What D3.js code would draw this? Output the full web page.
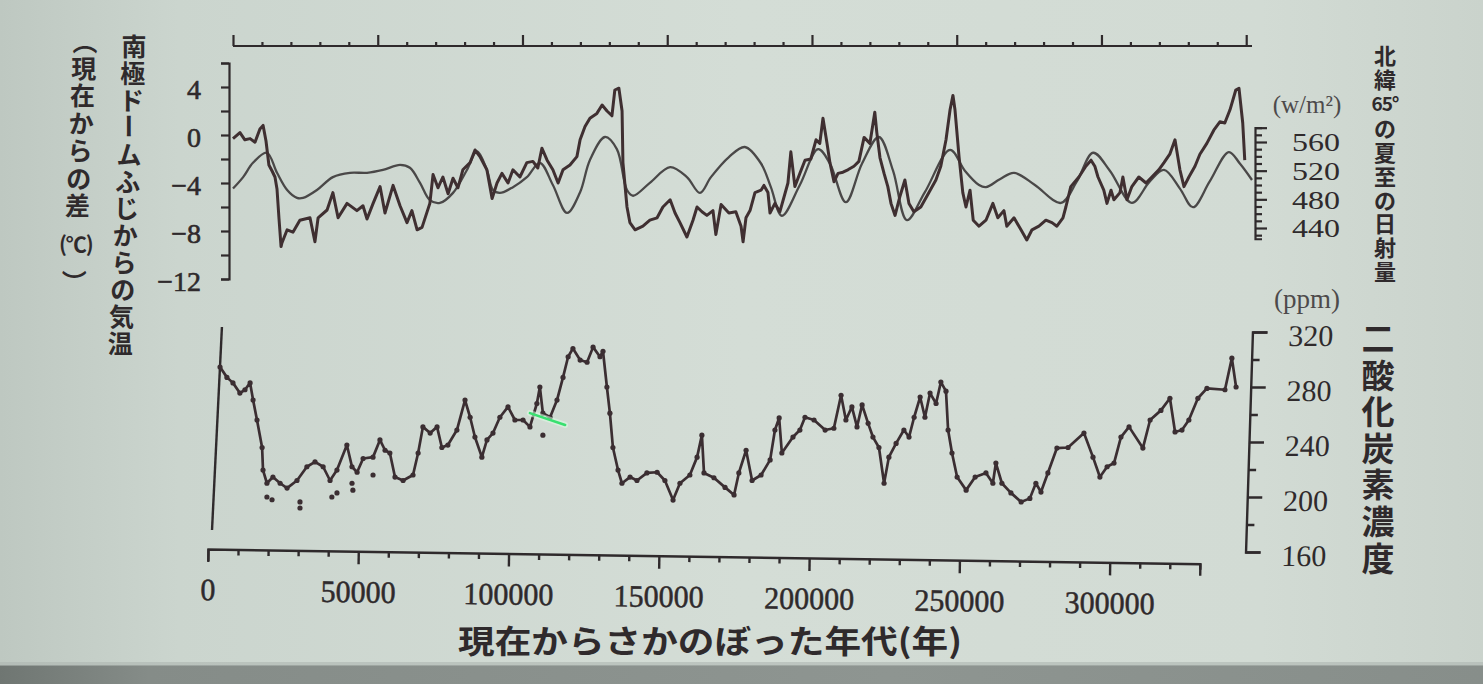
<!DOCTYPE html>
<html>
<head>
<meta charset="utf-8">
<script src="https://cdn.jsdelivr.net/npm/d3@7"></script>
<style>
  html, body { margin: 0; padding: 0; background: #d0d9d2; overflow: hidden; }
  svg { display: block; }
</style>
</head>
<body>
<svg id="chart" width="1483" height="684"></svg>
<script>
// ---- Dome Fuji temperature anomaly (age in ka, °C relative to present)
const tempSeries = [
  [0,-0.3],[2.4,0.2],[4.1,-0.4],[5.9,-0.3],[7.6,-0.6],[9.3,0.5],[10.4,0.8],[11.4,-0.5],[12.4,-2.5],[13.5,-3.0],
  [14.5,-3.5],[15.2,-4.5],[15.9,-7.0],[16.6,-9.3],[16.9,-9.0],[18.7,-7.9],[20.7,-8.1],[23.1,-7.1],[26.6,-6.9],[28.3,-8.9],
  [29.4,-6.9],[32.5,-6.25],[34.5,-4.8],[36.3,-6.9],[39.4,-5.7],[42.8,-6.3],[44.9,-5.9],[46.3,-7.0],[48.4,-5.7],[50.8,-4.3],
  [52.5,-6.5],[55.3,-4.2],[57.7,-5.9],[60.1,-7.3],[61.8,-6.3],[63.6,-7.9],[65.3,-7.7],[68.0,-5.7],[69.1,-3.3],[70.8,-4.4],
  [72.5,-3.5],[74.3,-4.9],[76.0,-3.6],[77.7,-4.4],[79.4,-2.9],[81.9,-2.3],[83.6,-1.25],[85.3,-1.8],[87.7,-2.9],[89.5,-5.3],
  [91.2,-4.0],[92.9,-3.2],[95.0,-4.0],[96.7,-2.9],[99.1,-3.5],[101.5,-2.3],[103.6,-2.2],[105.3,-2.75],[106.7,-1.1],[108.5,-2.1],
  [110.5,-2.9],[112.3,-4.0],[114.0,-2.9],[116.4,-2.5],[118.8,-1.8],[119.9,-0.4],[121.6,0.7],[123.3,1.4],[125.7,1.8],[127.5,2.5],
  [129.2,2.0],[130.9,1.6],[131.9,3.75],[133.3,3.9],[134.4,2.0],[134.7,-2.3],[136.1,-6.0],[137.1,-7.3],[138.9,-7.9],[141.6,-7.6],
  [144.0,-7.1],[146.5,-6.9],[148.5,-6.0],[151.0,-5.4],[152.7,-6.5],[154.4,-7.3],[156.8,-8.5],[158.9,-7.1],[160.3,-6.0],[162.0,-6.4],
  [163.7,-6.7],[165.8,-6.3],[166.8,-8.3],[168.6,-5.8],[171.3,-6.5],[173.7,-6.4],[175.5,-7.6],[176.2,-8.9],[177.2,-6.9],[178.6,-6.3],
  [180.3,-4.8],[182.4,-4.6],[183.4,-4.2],[184.8,-4.8],[185.5,-6.5],[187.2,-5.7],[188.9,-6.4],[191.7,-4.0],[192.7,-1.4],[194.1,-4.3],
  [195.8,-3.2],[197.6,-2.1],[199.6,-2.0],[201.4,-0.4],[202.7,-0.7],[203.8,1.4],[205.2,-0.7],[206.2,-2.3],[207.6,-3.9],[209.0,-3.2],
  [210.7,-3.1],[212.4,-2.9],[214.5,-2.6],[216.2,-2.2],[218.0,-0.2],[220.0,-0.7],[221.7,1.9],[222.4,0.2],[223.5,-1.9],[224.9,-3.2],
  [226.2,-4.3],[227.3,-5.7],[228.7,-6.7],[230.4,-5.1],[232.1,-3.75],[233.5,-5.7],[235.2,-6.4],[237.6,-6.0],[240.4,-4.8],[242.8,-3.75],
  [244.5,-2.6],[246.3,-0.4],[247.7,2.1],[248.7,3.3],[249.4,2.1],[250.8,-1.8],[252.1,-4.8],[253.2,-6.0],[254.6,-4.6],[255.7,-7.1],
  [257.7,-7.6],[260.1,-7.1],[262.5,-5.7],[264.2,-6.9],[266.3,-6.3],[267.3,-7.6],[269.8,-6.9],[272.2,-7.9],[274.2,-8.75],[276.0,-7.9],
  [278.4,-7.6],[280.8,-7.1],[282.9,-7.3],[284.6,-7.6],[286.7,-6.9],[287.7,-6.0],[289.4,-4.3],[292.2,-3.5],[294.6,-2.6],[296.4,-2.1],
  [297.7,-2.6],[298.8,-3.5],[300.8,-4.6],[301.9,-5.7],[303.3,-4.6],[304.3,-5.4],[306.4,-4.8],[307.4,-3.5],[308.8,-5.4],[310.5,-4.3],
  [312.9,-3.5],[315.4,-4.0],[317.4,-3.5],[319.8,-2.9],[321.6,-2.3],[323.6,-1.6],[325.4,-0.4],[327.1,-2.9],[328.5,-4.3],[330.2,-3.5],
  [332.3,-2.6],[334.0,-1.6],[336.4,-0.7],[338.8,0.4],[340.9,1.1],[342.6,1.0],[344.4,2.1],[346.4,3.75],[347.5,3.9],[348.8,1.0],
  [349.5,-2.1]
];

// ---- 65°N summer-solstice insolation (age in ka, W/m²)
const insolSeries = [
  [0,495],[3.5,511],[6.9,531],[11.7,545],[15.2,517],[18.7,493],[22.1,482],[24.2,482],[29.0,493],[34.5,511],
  [40.4,517],[46.3,517],[51.8,521],[57.7,528],[61.1,524],[64.6,503],[68.0,479],[71.5,475],[76.0,489],[80.8,521],
  [84.3,547],[87.7,521],[89.8,493],[92.2,489],[96.7,497],[101.5,511],[106.0,531],[110.5,500],[115.4,461],[119.9,490],
  [123.3,535],[128.5,567],[132.6,550],[136.1,493],[138.2,485],[144.0,503],[151.0,525],[156.8,511],[161.3,489],[165.1,511],
  [171.3,539],[176.8,553],[182.4,530],[185.8,497],[189.6,457],[195.8,500],[202.1,550],[206.2,530],[211.7,476],[217.3,530],
  [223.1,567],[228.0,520],[232.8,451],[239.0,490],[247.7,549],[252.8,520],[257.7,500],[260.1,497],[264.9,508],[269.8,517],
  [277.0,500],[286.0,475],[291.5,505],[297.1,545],[302.9,520],[310.5,475],[316.7,505],[321.6,521],[327.1,495],[331.6,469],
  [337.4,505],[344.0,546],[347.8,530],[352.0,507]
];

// ---- CO2 concentration (age in ka, ppm)
const co2Series = [
  [4.0,294.5],[6.3,287],[8.3,283],[10.6,275.6],[12.3,278],[14.0,283],[15.0,270.5],[16.3,256],[18.0,236],[18.3,219.6],
  [19.6,210],[21.6,214.5],[24.0,210],[26.3,206.5],[29.6,212],[32.9,222],[35.6,225.5],[38.3,222],[40.6,212],[42.9,219.6],
  [46.2,237.8],[47.9,222],[49.6,218],[51.6,228],[54.9,229],[57.2,241.5],[58.9,234],[60.5,232],[62.2,214.5],[64.9,212],
  [68.2,216],[69.9,232],[71.5,251],[73.9,246.5],[76.2,251],[77.8,236],[79.8,237.8],[82.8,248.7],[85.5,270.5],[87.2,258],
  [88.8,243.6],[91.1,229],[92.8,241.5],[94.8,246.5],[97.1,258],[99.8,265.5],[102.1,256],[104.8,256],[107.1,251],[109.4,268],
  [110.4,280],[111.4,261],[113.8,258],[116.1,270.5],[118.1,287],[119.8,302],[121.4,308],[123.8,299.6],[126.1,298],[128.1,309],
  [130.4,302],[131.4,306],[132.7,280],[133.7,261],[134.7,236],[136.4,219.6],[137.7,210],[140.4,214.5],[142.7,212],[146.0,217.5],
  [149.4,218],[152.0,212],[154.7,197.8],[157.0,210],[160.3,216],[162.7,229],[164.3,245],[165.0,217.5],[168.3,214],[172.0,207],
  [175.0,201.5],[176.6,217.5],[179.0,234],[181.0,212],[184.0,216],[187.0,227],[188.6,248.7],[190.0,257.5],[190.9,232],[194.6,243.6],
  [196.9,248.7],[198.6,258],[201.6,256],[205.3,248.7],[208.2,250],[210.6,274],[212.2,256],[214.2,265.5],[215.9,251],[217.6,267],
  [219.6,253.6],[221.2,243.6],[223.2,236],[224.9,210],[226.5,229],[228.9,239],[231.5,248.7],[233.2,243.6],[234.9,258],[236.9,272.7],
  [238.5,258],[240.2,275.6],[242.2,268],[243.8,283.6],[245.5,277],[246.2,248.7],[247.5,232],[249.2,214.5],[252.2,205],[255.2,214.5],
  [258.8,217.5],[261.1,210],[262.1,224.7],[264.1,210],[267.1,203],[270.5,196.4],[273.4,199],[275.4,210],[277.1,203.6],[279.4,217.5],
  [282.4,235.6],[286.1,236],[291.4,246.5],[294.4,229],[296.7,214.5],[299.1,222],[301.4,224.7],[303.7,243.6],[306.4,251],[311.0,235.6],
  [313.4,256],[317.0,263],[320.0,271.8],[321.7,247.3],[324.0,248.7],[326.3,256],[329.3,271.8],[332.3,279],[338.3,278],[340.6,301],
  [342.0,280]
];

// isolated CO2 measurements lying off the main trace (ka, ppm)
const co2Stray = [
  [19.6,200],[21.3,198],[30.6,196.4],[30.6,192],[41.2,200],[42.9,203],[47.9,210],[48.2,205],[54.9,216],[111.4,245]
];

// short green pointer stroke across the CO2 trace (ka, ppm)
const pointerMark = [[107.1,261],[118.8,252.4]];

// ---- tick values and labels
const tempTicks = d3.range(-12, 7, 2);
const tempLabels = [-12, -8, -4, 0, 4];
const insolTicks = d3.range(430, 581, 10);
const insolLabels = [440, 480, 520, 560];
const co2Ticks = d3.range(160, 321, 20);
const co2Labels = [160, 200, 240, 280, 320];
const ageTicks = d3.range(0, 330001, 10000);
const ageLabels = d3.range(0, 300001, 50000);
const topTicks = d3.range(0, 350001, 10000);

// ---- titles, one entry per vertical cell
const tempTitleOuter = ["︵","現","在","か","ら","の","差","(℃)","︶"];
const tempTitleInner = ["南","極","ド","ー","ム","ふ","じ","か","ら","の","気","温"];
const insolTitle = ["北","緯","65°","の","夏","至","の","日","射","量"];
const co2Title = ["二","酸","化","炭","素","濃","度"];
const ageTitle = "現在からさかのぼった年代(年)";
const insolUnit = "(w/m²)";
const co2Unit = "(ppm)";

// ================= drawing =================
const W = 1483, H = 684;
const fontCJK = "'Noto Sans CJK JP','Noto Sans CJK SC',sans-serif";
const fontNum = "'Liberation Serif','DejaVu Serif',serif";
const ink = "#2f2a2c";

const svg = d3.select("#chart");
const defs = svg.append("defs");

// screen background with a soft horizontal falloff
const bg = defs.append("linearGradient").attr("id", "bg").attr("x1", 0).attr("x2", 1).attr("y1", 0).attr("y2", 0);
bg.selectAll("stop")
  .data([[0, "#bec8c1"], [0.12, "#cbd5ce"], [0.5, "#d4ddd6"], [0.85, "#d2dbd4"], [1, "#cad3cc"]])
  .join("stop").attr("offset", d => d[0]).attr("stop-color", d => d[1]);
svg.append("rect").attr("width", W).attr("height", H).attr("fill", "url(#bg)");

// darker strip below the projected slide
const band = defs.append("linearGradient").attr("id", "band").attr("x1", 0).attr("x2", 1).attr("y1", 0).attr("y2", 0);
band.selectAll("stop")
  .data([[0, "#6f7672"], [0.1, "#858c88"], [0.6, "#8e9591"], [1, "#878e8a"]])
  .join("stop").attr("offset", d => d[0]).attr("stop-color", d => d[1]);
svg.append("rect").attr("x", 0).attr("y", 665).attr("width", W).attr("height", H - 665).attr("fill", "url(#band)");
svg.append("rect").attr("x", 0).attr("y", 662).attr("width", W).attr("height", 4).attr("fill", "#aeb5b0").attr("opacity", 0.6);

// ---- scales
const xTop = d3.scaleLinear().domain([0, 352000]).range([233, 1252]);
const xBot = d3.scaleLinear().domain([0, 330000]).range([208, 1200]);
const yTemp = d3.scaleLinear().domain([-12, 6]).range([279, 63]);
const yInsol = d3.scaleLinear().domain([440, 560]).range([228, 142]);
const yCO2 = d3.scaleLinear().domain([160, 320]).range([552, 332]);

const chart = svg.append("g");

function styleAxis(g, width) {
  g.selectAll("path.domain").attr("stroke", ink).attr("stroke-width", width);
  g.selectAll(".tick line").attr("stroke", ink).attr("stroke-width", width);
}

// ---- top time strip (unlabelled)
const gTop = chart.append("g").attr("transform", "translate(0,46)")
  .call(d3.axisTop(xTop).tickValues(topTicks).tickSizeOuter(0).tickFormat(""));
gTop.select("path.domain").attr("d", `M${xTop(0)},0H${xTop(352000)}`);
gTop.selectAll(".tick line").attr("y2", d => d % 50000 === 0 ? -11 : -4);
styleAxis(gTop, 2.2);

// ---- temperature axis (left, top panel)
const gTemp = chart.append("g").attr("transform", "translate(229,0)")
  .call(d3.axisLeft(yTemp).tickValues(tempTicks).tickSize(8).tickSizeOuter(8)
    .tickFormat(d => tempLabels.includes(d) ? d3.format("d")(d) : ""));
styleAxis(gTemp, 2.2);
gTemp.selectAll(".tick text")
  .attr("x", -28).attr("dy", "0.42em")
  .attr("font-family", fontNum).attr("font-size", 28).attr("fill", ink)
  .attr("stroke", ink).attr("stroke-width", 0.6);

// ---- insolation axis (right, top panel)
const yInsolAxis = yInsol.copy().domain([425, 580]).range([yInsol(425), yInsol(580)]);
const gInsol = chart.append("g").attr("transform", "translate(1255,0)")
  .call(d3.axisRight(yInsolAxis).tickValues(insolTicks).tickSizeOuter(7)
    .tickFormat(d => insolLabels.includes(d) ? d : ""));
gInsol.selectAll(".tick line").attr("x2", d => d % 40 === 0 || d === 580 ? 12 : 7);
styleAxis(gInsol, 2.2);
gInsol.selectAll(".tick text")
  .attr("x", 37).attr("dy", "0.34em")
  .attr("font-family", fontNum).attr("font-size", 26).attr("fill", ink)
  .each(function(d) {
    if (insolLabels.includes(d)) d3.select(this).attr("textLength", 48).attr("lengthAdjust", "spacingAndGlyphs");
  });

// ---- CO2 axis (right, bottom panel), leaning slightly like the rest of the lower frame
const tCO2 = Math.tan(1.8 * Math.PI / 180);
const gCO2 = chart.append("g")
  .attr("transform", `translate(${1249 + tCO2 * 442},0) skewX(-1.8)`)
  .call(d3.axisRight(yCO2).tickValues(co2Ticks).tickSizeOuter(15)
    .tickFormat(d => co2Labels.includes(d) ? d : ""));
gCO2.selectAll(".tick line").attr("x2", d => d % 40 === 0 ? 15 : 8);
styleAxis(gCO2, 2.4);
gCO2.selectAll(".tick text")
  .attr("x", 36).attr("dy", "0.45em")
  .attr("font-family", fontNum).attr("font-size", 30).attr("fill", ink);

// ---- left frame line of the CO2 panel
const tLeft = Math.tan(2.8 * Math.PI / 180);
chart.append("g")
  .attr("transform", `translate(${217 + tLeft * 428},0) skewX(-2.8)`)
  .append("path")
  .attr("d", `M0,${yCO2(323.6)}V${yCO2(176)}`)
  .attr("stroke", ink).attr("stroke-width", 2.4);

// ---- age axis (bottom), with its slight downward tilt
const gAge = chart.append("g")
  .attr("transform", `rotate(0.85,${xBot(0)},549) translate(0,549)`)
  .call(d3.axisBottom(xBot).tickValues(ageTicks).tickSizeOuter(12)
    .tickFormat(d => ageLabels.includes(d) ? d : ""));
gAge.selectAll(".tick line").attr("y2", d => d % 50000 === 0 ? 13 : 6);
styleAxis(gAge, 2.4);
gAge.selectAll(".tick text")
  .attr("y", 40).attr("dy", "0.36em")
  .attr("font-family", fontNum).attr("font-size", 31).attr("fill", ink)
  .attr("stroke", ink).attr("stroke-width", 0.5)
  .each(function(d) {
    const s = String(d);
    if (ageLabels.includes(d)) d3.select(this).attr("textLength", 15 * s.length).attr("lengthAdjust", "spacingAndGlyphs");
  });

// ---- curves
const insolLine = d3.line()
  .x(d => xTop(d[0] * 1000)).y(d => yInsol(d[1]))
  .curve(d3.curveCatmullRom.alpha(0.5));
chart.append("path").datum(insolSeries)
  .attr("d", insolLine).attr("fill", "none")
  .attr("stroke", "#4a4848").attr("stroke-width", 2.3);

const tempLine = d3.line()
  .x(d => xTop(d[0] * 1000)).y(d => yTemp(d[1]));
chart.append("path").datum(tempSeries)
  .attr("d", tempLine).attr("fill", "none")
  .attr("stroke", "#3f2f31").attr("stroke-width", 3)
  .attr("stroke-linejoin", "round");

const co2Line = d3.line()
  .x(d => xBot(d[0] * 1000)).y(d => yCO2(d[1]));
chart.append("path").datum(co2Series)
  .attr("d", co2Line).attr("fill", "none")
  .attr("stroke", "#3b2e32").attr("stroke-width", 2.7)
  .attr("stroke-linejoin", "round");
chart.append("g").selectAll("circle")
  .data(co2Series.concat(co2Stray))
  .join("circle")
  .attr("cx", d => xBot(d[0] * 1000)).attr("cy", d => yCO2(d[1]))
  .attr("r", 2.6).attr("fill", "#3b2e32");

// green pointer stroke
chart.append("path").datum(pointerMark)
  .attr("d", co2Line).attr("stroke", "#dcffe4").attr("stroke-width", 6).attr("opacity", 0.55)
  .attr("stroke-linecap", "round");
chart.append("path").datum(pointerMark)
  .attr("d", co2Line).attr("stroke", "#39e070").attr("stroke-width", 2.6)
  .attr("stroke-linecap", "round");

// ---- vertical titles, one glyph per cell
function columnLayout(chars, y0, cellOf) {
  const out = []; let y = y0, prev = null;
  chars.forEach(c => {
    const h = cellOf(c);
    if (prev !== null) y += (prev + h) / 2;
    out.push({ c, y, h });
    prev = h;
  });
  return out;
}

function drawColumn(cells, xAt, size, opts = {}) {
  chart.append("g").selectAll("text")
    .data(cells).join("text")
    .attr("x", d => xAt(d.y)).attr("y", d => d.y)
    .attr("text-anchor", "middle").attr("dominant-baseline", "central")
    .attr("font-family", fontCJK).attr("font-weight", 700)
    .attr("font-size", d => (opts.sizeOf ? opts.sizeOf(d.c) : null) || size)
    .attr("letter-spacing", d => d.c.length > 1 ? -1 : 0)
    .attr("fill", ink)
    .attr("transform", d => opts.rotate && opts.rotate(d.c) ? `rotate(90,${xAt(d.y)},${d.y})` : null)
    .text(d => d.c);
}

drawColumn(
  columnLayout(tempTitleOuter, 40, c => (c === "︵" || c === "︶") ? 26 : c.length > 1 ? 50 : 27.5),
  y => 85 - 0.045 * (y - 40), 25,
  { sizeOf: c => c.length > 1 ? 21 : null });

drawColumn(
  columnLayout(tempTitleInner, 45, () => 27),
  y => 134 - 0.046 * (y - 45), 25,
  { rotate: c => c === "ー" });

drawColumn(
  columnLayout(insolTitle, 54, c => c.length > 1 ? 26 : (c === "の" && false) ? 18 : 23.7),
  () => 1385, 22,
  { sizeOf: c => c.length > 1 ? 19 : null });

drawColumn(
  columnLayout(co2Title, 337, () => 36.6),
  () => 1378, 33);

// ---- unit labels
chart.append("text").attr("x", 1307).attr("y", 104)
  .attr("text-anchor", "middle").attr("dominant-baseline", "central")
  .attr("font-family", fontNum).attr("font-size", 25).attr("fill", "#4d4a4b")
  .text(insolUnit);
chart.append("text").attr("x", 1307).attr("y", 299)
  .attr("text-anchor", "middle").attr("dominant-baseline", "central")
  .attr("font-family", fontNum).attr("font-size", 27).attr("fill", "#4d4a4b")
  .text(co2Unit);

// ---- age axis title
chart.append("text").attr("x", 710).attr("y", 639)
  .attr("text-anchor", "middle").attr("dominant-baseline", "central")
  .attr("font-family", fontCJK).attr("font-weight", 700).attr("font-size", 32)
  .attr("textLength", 504).attr("lengthAdjust", "spacingAndGlyphs")
  .attr("fill", ink)
  .text(ageTitle);
</script>
</body>
</html>
